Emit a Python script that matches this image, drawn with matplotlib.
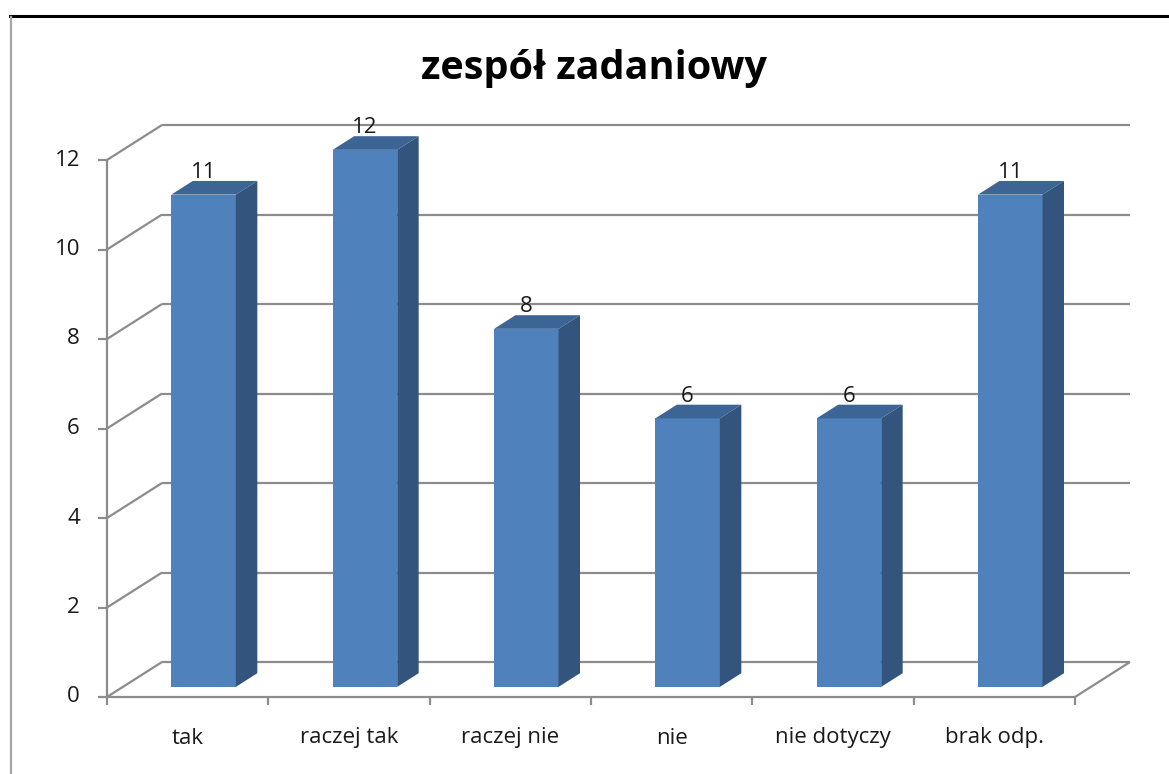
import matplotlib
matplotlib.use("Agg")
import matplotlib.pyplot as plt
from matplotlib.patches import Polygon
from matplotlib.lines import Line2D
from matplotlib.transforms import offset_copy

# ---- data ----
title = "zespół zadaniowy"
categories = ["tak", "raczej tak", "raczej nie", "nie", "nie dotyczy", "brak odp."]
values = [11, 12, 8, 6, 6, 11]
yticks = [0, 2, 4, 6, 8, 10, 12]

# ---- style ----
FONT = "Open Sans"
C_FRONT = "#4F81BD"
C_TOP = "#3C6494"
C_SIDE = "#32547D"
C_GRID = "#8C8C8C"
TXT = "#1a1a1a"
FS = 16

W, H = 1169, 774
fig = plt.figure(figsize=(W / 100, H / 100), dpi=100)
fig.patch.set_facecolor("white")

# front plot area (pixel anchors of the 3D box front)
x0px, x1px, y0px, y1px = 107, 1075, 697, 160
ax = fig.add_axes([x0px / W, 1 - y0px / H, (x1px - x0px) / W, (y0px - y1px) / H])
n = len(categories)
ax.set_xlim(0, n)
ax.set_ylim(0, 12)
ax.axis("off")

# oblique depth offsets (in data units)
DX = 55 / ((x1px - x0px) / n)
DY = 35 / ((y0px - y1px) / 12)

def P(x, v, d):
    return (x + d * DX, v + d * DY)

gkw = dict(color=C_GRID, lw=1.6, clip_on=False, solid_capstyle="butt", zorder=1)

# back wall gridlines + side wall diagonals
for t in yticks:
    bx0, by0 = P(0, t, 1)
    bx1, by1 = P(n, t, 1)
    ax.plot([bx0, bx1], [by0, by1], **gkw)
    ax.plot([0, bx0], [t, by0], **gkw)
    ax.plot([0, -9 / ((x1px - x0px) / n)], [t, t], **gkw)

# floor front and right edges
ax.plot([0, n], [0, 0], **gkw)
fx, fy = P(n, 0, 1)
ax.plot([n, fx], [0, fy], **gkw)
# front vertical axis
ax.plot([0, 0], [0, max(yticks)], **gkw)
# category ticks
tick_len = 8 / ((y0px - y1px) / 12)
for i in range(n + 1):
    ax.plot([i, i], [0, -tick_len], **gkw)

# y tick labels
ylab_tr = offset_copy(ax.transData, fig=fig, x=-27, y=0, units="dots")
for t in yticks:
    ax.text(0, t, str(t), transform=ylab_tr, ha="right", va="center",
            fontsize=FS, family=FONT, color=TXT)

# category labels
xlab_tr = offset_copy(ax.transData, fig=fig, x=0, y=-41, units="dots")
for i, c in enumerate(categories):
    ax.text(i + 0.5, 0, c, transform=xlab_tr, ha="center", va="center",
            fontsize=FS, family=FONT, color=TXT)

# bars
f0, f1 = 0.29, 0.68
bw = 0.40
xs = [i + 0.5 - bw / 2 for i in range(n)]
fx0 = [x + f0 * DX for x in xs]
ax.bar(fx0, values, width=bw, bottom=f0 * DY, align="edge", color=C_FRONT,
       edgecolor="none", zorder=3, clip_on=False)
lab_tr = offset_copy(ax.transData, fig=fig, x=0, y=-2, units="dots")
for x, v in zip(xs, values):
    top = [P(x, v, f0), P(x + bw, v, f0), P(x + bw, v, f1), P(x, v, f1)]
    ax.add_patch(Polygon(top, closed=True, fc=C_TOP, ec="none", zorder=3, clip_on=False))
    side = [P(x + bw, 0, f0), P(x + bw, v, f0), P(x + bw, v, f1), P(x + bw, 0, f1)]
    ax.add_patch(Polygon(side, closed=True, fc=C_SIDE, ec="none", zorder=3, clip_on=False))
    lx, ly = P(x + bw / 2, v, f1)
    ax.text(x + bw / 2 + f0 * DX, ly, str(v), transform=lab_tr, ha="center", va="bottom",
            fontsize=FS, family=FONT, color=TXT, zorder=4)

# title
fig.text(594 / W, 1 - 68 / H, title, ha="center", va="center", fontsize=28.5,
         fontweight="bold", family=FONT, color="black")

# outer frame (cropped chart border)
fig.add_artist(Line2D([10 / W, 1], [1 - 16 / H, 1 - 16 / H], color="black", lw=2.2))
fig.add_artist(Line2D([11 / W, 11 / W], [0, 1 - 17 / H], color="#A6A6A6", lw=1.6))

fig.savefig("out.png", dpi=100)
